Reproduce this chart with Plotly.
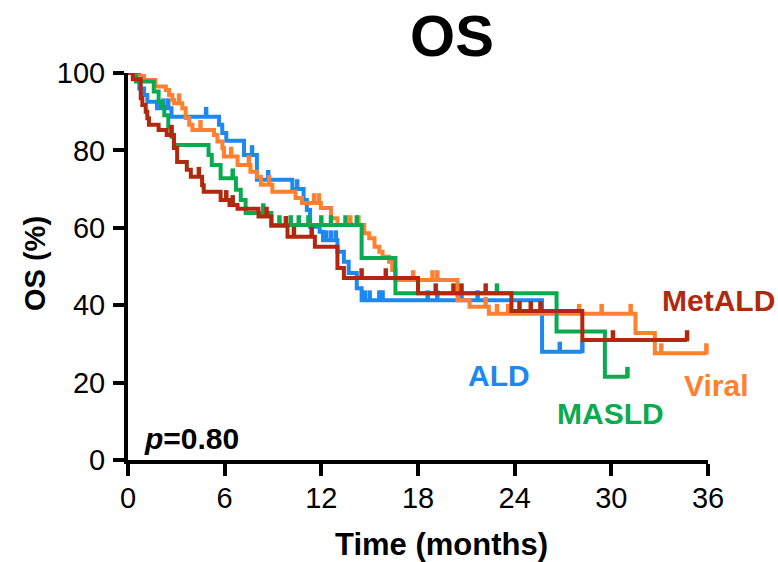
import numpy as np
import plotly.graph_objects as go

# ---------------- data ----------------
groups = ["ALD", "Viral", "MASLD", "MetALD"]
colors = {"ALD": "#1E88F0", "Viral": "#FF8030", "MASLD": "#0AAA4E", "MetALD": "#B2280F"}

# event times (months) and survival (%) after each step
ald_t = [0.7, 1.0, 1.2, 1.8, 2.7, 5.65, 5.85, 6.1, 7.2, 8.0, 10.2, 10.9, 11.1, 11.3, 11.9, 12.1, 13.0, 13.4, 13.7, 14.2, 14.5, 25.7]
ald_s = [96.0, 94.3, 92.6, 90.9, 88.7, 86.6, 84.5, 82.5, 78.8, 72.4, 70.0, 67.2, 64.6, 60.3, 59.0, 56.8, 53.8, 51.2, 48.3, 44.4, 41.3, 28.0]
ald_c = [2.2, 2.5, 4.85, 7.7, 8.7, 10.5, 12.3, 12.6, 12.9, 14.7, 15.0, 15.6, 15.8, 18.6, 19.2, 20.7, 21.7, 26.8, 28.2]
ald_end = 28.2

viral_t = [0.3, 1.0, 1.7, 2.35, 2.55, 2.75, 2.86, 3.37, 3.58, 3.8, 4.0, 5.34, 5.55, 5.86, 5.96, 6.8, 7.6, 8.0, 8.25, 8.96, 10.4, 10.8, 11.97, 12.6, 13.0,
           14.66, 14.97, 15.3, 15.6, 15.8, 16.2, 16.4, 16.6, 20.45, 21.2, 22.4, 31.5, 32.7]
viral_s = [99.2, 98.2, 96.5, 95.6, 94.3, 93.0, 92.2, 90.9, 88.4, 86.6, 85.3, 84.0, 82.3, 80.6, 78.4, 76.2, 74.5, 73.2, 71.1, 69.3, 67.7, 66.4, 65.1, 62.5, 60.7,
           58.6, 57.3, 55.1, 53.8, 52.5, 51.2, 49.1, 46.5, 41.3, 39.6, 37.8, 32.8, 27.6]
viral_c = [0.9, 3.17, 4.5, 6.4, 7.5, 8.76, 11.55, 11.85, 13.8, 14.3, 17.7, 18.9, 19.2, 22.2, 22.9, 23.6, 28.0, 29.4, 31.2, 33.1, 35.9]
viral_end = 35.9

masld_t = [0.5, 1.6, 1.9, 2.05, 2.25, 2.5, 2.7, 2.85, 5.0, 5.2, 5.75, 6.7, 7.0, 7.3, 8.9, 14.5, 16.6, 26.6, 29.6]
masld_s = [97.8, 95.2, 92.6, 91.3, 89.1, 86.1, 83.5, 81.4, 78.8, 76.2, 72.8, 69.8, 67.2, 63.8, 60.7, 52.2, 43.1, 33.2, 21.5]
masld_c = [6.5, 8.4, 9.4, 10.1, 10.6, 11.2, 12.0, 12.6, 13.5, 14.2, 22.9, 31.0]
masld_end = 31.0

metald_t = [0.3, 0.79, 0.89, 1.1, 1.2, 1.3, 1.9, 2.4, 2.85, 3.05, 3.65, 3.9, 4.6, 4.7, 5.75, 6.3, 6.8, 8.1, 8.9, 9.9, 11.6, 13.0, 13.4, 18.0, 23.8, 28.2]
metald_s = [98.4, 93.5, 91.7, 90.0, 88.3, 86.6, 85.3, 84.0, 80.6, 77.0, 75.0, 73.2, 71.0, 69.3, 67.2, 65.9, 64.9, 62.9, 60.5, 57.7, 55.1, 49.6, 47.0, 43.1, 38.5, 31.0]
metald_c = [2.7, 4.4, 6.1, 6.5, 8.6, 9.8, 10.3, 11.4, 14.5, 16.0, 19.1, 20.2, 20.7, 22.2, 24.3, 25.0, 25.6, 30.1, 34.7]
metald_end = 34.7

series = {
    "ALD": (ald_t, ald_s, ald_c, ald_end),
    "Viral": (viral_t, viral_s, viral_c, viral_end),
    "MASLD": (masld_t, masld_s, masld_c, masld_end),
    "MetALD": (metald_t, metald_s, metald_c, metald_end),
}

x_ticks = [0, 6, 12, 18, 24, 30, 36]
y_ticks = [0, 20, 40, 60, 80, 100]

# ---------------- figure ----------------
FONT = "Liberation Sans, Arial, sans-serif"
fig = go.Figure()

def surv_at(t_list, s_list, t):
    s = 100.0
    for ti, si in zip(t_list, s_list):
        if ti <= t:
            s = si
    return s

for g in groups:
    t, s, c, end = series[g]
    xs = [0] + list(t) + [end]
    ys = [100] + list(s) + [s[-1]]
    fig.add_trace(go.Scatter(x=xs, y=ys, mode="lines", line=dict(color=colors[g], width=4, shape="hv"),
                             showlegend=False, hoverinfo="skip"))
    cy = [surv_at(t, s, ci) + 1.1 for ci in c]
    fig.add_trace(go.Scatter(x=c, y=cy, mode="markers",
                             marker=dict(symbol="line-ns", size=8, line=dict(color=colors[g], width=4.5)),
                             showlegend=False, hoverinfo="skip", cliponaxis=False))

L, R, T, B = 128, 70, 73, 102
fig.update_layout(
    width=778, height=562,
    margin=dict(l=L, r=R, t=T, b=B),
    paper_bgcolor="white", plot_bgcolor="white",
    font=dict(family=FONT, color="black"),
    title=dict(text="<b>OS</b>", x=452 / 778, xanchor="center", xref="container",
               y=1 - 36 / 562, yanchor="middle", yref="container",
               font=dict(size=58, family=FONT, color="black")),
)
fig.update_xaxes(range=[0, 36], tickvals=x_ticks, ticktext=[str(v) for v in x_ticks],
                 showgrid=False, zeroline=False, showline=True, linecolor="black", linewidth=4,
                 ticks="outside", ticklen=12, tickwidth=4, tickcolor="black",
                 tickfont=dict(size=29, family=FONT, color="black"), ticklabelstandoff=-3)
fig.update_yaxes(range=[0, 100], tickvals=y_ticks, ticktext=[str(v) for v in y_ticks],
                 showgrid=False, zeroline=False, showline=True, linecolor="black", linewidth=4,
                 ticks="outside", ticklen=11, tickwidth=4, tickcolor="black",
                 tickfont=dict(size=29, family=FONT, color="black"), ticklabelstandoff=2)

W, H = 778 - L - R, 562 - T - B
def px(xp):
    return (xp - L) / W
def py(yp):
    return (562 - B - yp) / H

annots = [
    dict(text="<b>OS (%)</b>", x=px(35), y=py(264), textangle=-90, size=29, color="black", xanchor="center"),
    dict(text="<b>Time (months)</b>", x=px(441), y=py(544), size=31, color="black", xanchor="center"),
    dict(text="<b><i>p</i>=0.80</b>", x=px(142), y=py(438), size=30, color="black", xanchor="left"),
    dict(text="<b>MetALD</b>", x=px(777), y=py(300), size=30, color=colors["MetALD"], xanchor="right"),
    dict(text="<b>ALD</b>", x=px(499), y=py(375), size=30, color=colors["ALD"], xanchor="center"),
    dict(text="<b>MASLD</b>", x=px(610), y=py(413), size=30, color=colors["MASLD"], xanchor="center"),
    dict(text="<b>Viral</b>", x=px(716), y=py(385), size=30, color=colors["Viral"], xanchor="center"),
]
for a in annots:
    fig.add_annotation(text=a["text"], x=a["x"], y=a["y"], xref="paper", yref="paper",
                       xanchor=a["xanchor"], yanchor="middle", showarrow=False,
                       textangle=a.get("textangle", 0),
                       font=dict(size=a["size"], color=a["color"], family=FONT))

fig.write_html("out.html")
